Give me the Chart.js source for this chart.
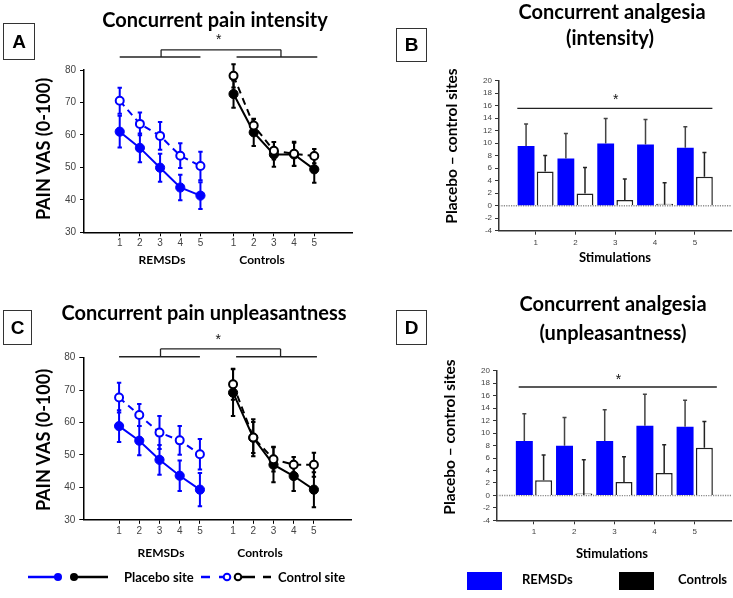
<!DOCTYPE html>
<html>
<head>
<meta charset="utf-8">
<script src="https://cdn.jsdelivr.net/npm/chart.js@4.4.1/dist/chart.umd.min.js"></script>
<style>
  html, body { margin: 0; padding: 0; background: #fff; }
  body { width: 733px; height: 598px; position: relative; overflow: hidden; }
  canvas { position: absolute; }
  .t { position: absolute; white-space: nowrap; transform: translate(-50%, -50%); font-family: Lato, "Open Sans", sans-serif; font-weight: bold; color: #000; line-height: 1; }
  .r { transform: translate(-50%, -50%) rotate(-90deg); }
  .ttl { font-size: 20px; }
  .box { position: absolute; box-sizing: border-box; border: 1.3px solid #333; font: bold 19px "Liberation Sans", Arial, sans-serif; display: flex; align-items: center; justify-content: center; color: #000; }
  .lgt { position: absolute; font-family: Lato, sans-serif; font-weight: bold; font-size: 13px; line-height: 1; transform: translateY(-50%); white-space: nowrap; }
</style>
</head>
<body>
<canvas id="cA" width="366" height="290" style="left:0;top:0"></canvas>
<canvas id="cB" width="363" height="290" style="left:370px;top:0"></canvas>
<canvas id="cC" width="366" height="290" style="left:0;top:288px"></canvas>
<canvas id="cD" width="363" height="290" style="left:370px;top:288px"></canvas>

<div class="box" style="left:3px;top:23px;width:32px;height:37px">A</div>
<div class="box" style="left:396px;top:28px;width:31px;height:34px">B</div>
<div class="box" style="left:3px;top:310px;width:29px;height:35px">C</div>
<div class="box" style="left:396px;top:310px;width:31px;height:35px">D</div>

<div class="t ttl" style="left:215px;top:19px">Concurrent pain intensity</div>
<div class="t ttl" style="left:612px;top:11px">Concurrent analgesia</div>
<div class="t ttl" style="left:610px;top:37px">(intensity)</div>
<div class="t ttl" style="left:204px;top:312px">Concurrent pain unpleasantness</div>
<div class="t ttl" style="left:613px;top:303px">Concurrent analgesia</div>
<div class="t ttl" style="left:613px;top:332px">(unpleasantness)</div>

<div class="t r" style="left:43px;top:149px;font-size:18px">PAIN VAS (0-100)</div>
<div class="t r" style="left:43px;top:440px;font-size:18px">PAIN VAS (0-100)</div>
<div class="t r" style="left:452px;top:146px;font-size:15.5px">Placebo – control sites</div>
<div class="t r" style="left:450px;top:437px;font-size:15.5px">Placebo – control sites</div>

<div class="t" style="left:162px;top:260px;font-size:12px">REMSDs</div>
<div class="t" style="left:262px;top:260px;font-size:12px">Controls</div>
<div class="t" style="left:161px;top:553px;font-size:12px">REMSDs</div>
<div class="t" style="left:260px;top:553px;font-size:12px">Controls</div>
<div class="t" style="left:615px;top:257px;font-size:13px">Stimulations</div>
<div class="t" style="left:612px;top:553px;font-size:13px">Stimulations</div>

<svg style="position:absolute;left:0;top:560px" width="300" height="34">
  <line x1="28" y1="17" x2="58" y2="17" stroke="#0000ff" stroke-width="2.5"/>
  <circle cx="58" cy="17" r="4" fill="#0000ff"/>
  <circle cx="74" cy="17" r="4" fill="#000"/>
  <line x1="74" y1="17" x2="108" y2="17" stroke="#000" stroke-width="2.5"/>
  <line x1="201" y1="17" x2="210" y2="17" stroke="#0000ff" stroke-width="2.5"/>
  <line x1="219" y1="17" x2="224" y2="17" stroke="#0000ff" stroke-width="2.5"/>
  <circle cx="227" cy="17" r="3.3" fill="#fff" stroke="#0000ff" stroke-width="2"/>
  <circle cx="238" cy="17" r="3.3" fill="#fff" stroke="#000" stroke-width="2"/>
  <line x1="242" y1="17" x2="255" y2="17" stroke="#000" stroke-width="2.5"/>
  <line x1="263" y1="17" x2="271" y2="17" stroke="#000" stroke-width="2.5"/>
</svg>
<div class="lgt" style="left:124px;top:577px">Placebo site</div>
<div class="lgt" style="left:278px;top:577px">Control site</div>
<div style="position:absolute;left:467px;top:572px;width:35px;height:18px;background:#0000ff"></div>
<div class="lgt" style="left:522px;top:579px">REMSDs</div>
<div style="position:absolute;left:619px;top:572px;width:35px;height:18px;background:#000"></div>
<div class="lgt" style="left:678px;top:579px">Controls</div>

<script>
// ---------------- data ----------------
const stimulations = [1, 2, 3, 4, 5];
const stimLabels = ['1', '2', '3', '4', '5'];
const vasTicks = [30, 40, 50, 60, 70, 80];
const diffTicks = [-4, -2, 0, 2, 4, 6, 8, 10, 12, 14, 16, 18, 20];

// Panel A: concurrent pain intensity (mean, error)
const intRemPlacebo    = [61.0, 56.0, 49.9, 43.8, 41.3];
const intRemPlaceboErr = [4.9, 4.4, 4.3, 3.9, 4.1];
const intRemControl    = [70.5, 63.4, 59.7, 53.6, 50.4];
const intRemControlErr = [4.0, 3.5, 4.3, 3.8, 4.4];
const intCtlPlacebo    = [72.6, 60.8, 54.0, 54.0, 49.4];
const intCtlPlaceboErr = [4.2, 4.2, 3.8, 3.6, 4.1];
const intCtlControl    = [78.2, 62.9, 55.1, 54.2, 53.5];
const intCtlControlErr = [3.6, 2.0, 2.7, 3.7, 2.2];

// Panel C: concurrent pain unpleasantness
const unpRemPlacebo    = [58.9, 54.4, 48.5, 43.6, 39.3];
const unpRemPlaceboErr = [4.9, 4.5, 4.6, 4.7, 5.1];
const unpRemControl    = [67.7, 62.3, 56.9, 54.5, 50.2];
const unpRemControlErr = [4.6, 3.4, 5.1, 4.4, 4.7];
const unpCtlPlacebo    = [69.2, 55.3, 47.0, 43.5, 39.3];
const unpCtlPlaceboErr = [7.2, 5.7, 5.4, 4.6, 5.4];
const unpCtlControl    = [71.8, 55.4, 48.7, 47.0, 47.0];
const unpCtlControlErr = [4.8, 4.8, 3.8, 2.4, 3.7];

// Panel B: concurrent analgesia (intensity), placebo - control sites
const anaIntRem    = [9.55, 7.57, 9.97, 9.81, 9.28];
const anaIntRemErr = [3.52, 4.0, 4.0, 4.0, 3.36];
const anaIntCtl    = [5.49, 1.97, 0.9, 0.16, 4.64];
const anaIntCtlErr = [2.56, 4.16, 3.37, 3.52, 3.89];

// Panel D: concurrent analgesia (unpleasantness)
const anaUnpRem    = [8.73, 7.98, 8.73, 11.16, 11.0];
const anaUnpRemErr = [4.37, 4.52, 5.02, 5.07, 4.26];
const anaUnpCtl    = [2.43, 0.05, 2.16, 3.61, 7.65];
const anaUnpCtlErr = [4.04, 5.66, 4.04, 4.53, 4.21];

// ---------------- layout helpers ----------------
const BLUE = '#0000ff';
const CTRL_SHIFT = 5.64;                    // Controls group offset on shared x axis
const remX = stimulations;
const ctlX = stimulations.map(s => s + CTRL_SHIFT);
const allX = remX.concat(ctlX);
const pts = (xs, ys) => xs.map((x, i) => ({ x: x, y: ys[i] }));

Chart.defaults.font.family = '"Liberation Sans", Arial, sans-serif';
Chart.defaults.color = '#444';
Chart.defaults.animation = false;
Chart.defaults.plugins.legend.display = false;
Chart.defaults.plugins.tooltip.enabled = false;

const fixW = w => s => { s.width = w; };
const fixH = h => s => { s.height = h; };
const setTicks = vals => s => { s.ticks = vals.map(v => ({ value: v })); };
const valOf = d => (d !== null && typeof d === 'object') ? d.y : d;

const errorBarPlugin = {
  id: 'errorBars',
  beforeDatasetsDraw(chart) { if (chart.config.type === 'line') drawErr(chart, true); },
  afterDatasetsDraw(chart) { if (chart.config.type === 'bar') drawErr(chart, false); }
};
function drawErr(chart, both) {
  const ctx = chart.ctx, y = chart.scales.y;
  chart.data.datasets.forEach((ds, i) => {
    if (!ds.errors) return;
    const meta = chart.getDatasetMeta(i);
    ctx.save();
    ctx.strokeStyle = ds.errorColor || ds.borderColor;
    ctx.lineWidth = ds.errorWidth || 2;
    meta.data.forEach((el, j) => {
      const v = valOf(ds.data[j]), e = ds.errors[j];
      const x = el.x;
      const yt = y.getPixelForValue(v + e);
      const yb = both ? y.getPixelForValue(v - e) : y.getPixelForValue(v);
      const cap = ds.capHalf || 2.2;
      ctx.beginPath();
      ctx.moveTo(x, yb); ctx.lineTo(x, yt);
      ctx.moveTo(x - cap, yt); ctx.lineTo(x + cap, yt);
      if (both) { ctx.moveTo(x - cap, yb); ctx.lineTo(x + cap, yb); }
      ctx.stroke();
    });
    ctx.restore();
  });
}

const sigPlugin = {
  id: 'sig',
  afterDatasetsDraw(chart, args, opts) {
    if (!opts || !opts.segments) return;
    const ctx = chart.ctx, sx = chart.scales.x, sy = chart.scales.y;
    ctx.save();
    ctx.strokeStyle = '#222';
    ctx.lineWidth = 1.3;
    opts.segments.forEach(s => {
      ctx.beginPath();
      ctx.moveTo(sx.getPixelForValue(s[0]), sy.getPixelForValue(s[1]));
      ctx.lineTo(sx.getPixelForValue(s[2]), sy.getPixelForValue(s[3]));
      ctx.stroke();
    });
    ctx.fillStyle = '#111';
    ctx.font = '14px "Liberation Sans", Arial, sans-serif';
    ctx.textAlign = 'center';
    ctx.textBaseline = 'middle';
    ctx.fillText('*', sx.getPixelForValue(opts.star[0]), sy.getPixelForValue(opts.star[1]) + 2);
    ctx.restore();
  }
};

const zeroLinePlugin = {
  id: 'zeroLine',
  beforeDatasetsDraw(chart) {
    if (chart.config.type !== 'bar') return;
    const ctx = chart.ctx, ca = chart.chartArea, y0 = chart.scales.y.getPixelForValue(0);
    ctx.save();
    ctx.strokeStyle = '#8a8a8a';
    ctx.lineWidth = 1.5;
    ctx.setLineDash([1.2, 1.2]);
    ctx.beginPath(); ctx.moveTo(ca.left, y0); ctx.lineTo(ca.right, y0); ctx.stroke();
    ctx.restore();
  }
};

function lineDs(xs, ys, err, color, open) {
  return {
    data: pts(xs, ys), errors: err,
    borderColor: color, backgroundColor: open ? '#fff' : color,
    pointBackgroundColor: open ? '#fff' : color, pointBorderColor: color,
    pointRadius: open ? 4 : 4.6, pointBorderWidth: open ? 2 : 1,
    borderWidth: 2, borderDash: open ? [7, 5] : [], tension: 0, fill: false,
    order: open ? 0 : 1
  };
}

function bracket(low, high, star) {
  const c1 = ctlX[0] + 0.15, c5 = ctlX[4] + 0.15, lv = remX[2] + 0.05, rv = ctlX[2] + 0.35;
  return {
    segments: [
      [remX[0], low, remX[4], low],
      [c1, low, c5, low],
      [lv, low, lv, high],
      [rv, low, rv, high],
      [lv, high, rv, high]
    ],
    star: [5.9, star]
  };
}

function lineChart(id, series, geo, sig) {
  return new Chart(document.getElementById(id), {
    type: 'line',
    data: { datasets: series },
    options: {
      responsive: false, devicePixelRatio: 1,
      layout: { padding: { left: 0, top: geo.top, right: geo.right, bottom: 0 } },
      scales: {
        x: {
          type: 'linear', min: -0.77, max: 12.51,
          afterBuildTicks: setTicks(allX), afterFit: fixH(geo.xh),
          border: { color: '#000', width: 1.5 },
          grid: { drawOnChartArea: false, tickLength: 4, color: '#000', lineWidth: 1 },
          ticks: { callback: (v, i) => stimLabels[i % 5], font: { size: 10 }, color: '#444', padding: 1, maxRotation: 0, autoSkip: false }
        },
        y: {
          min: 30, max: 80,
          afterBuildTicks: setTicks(vasTicks), afterFit: fixW(geo.left),
          border: { color: '#000', width: 1.5 },
          grid: { drawOnChartArea: false, tickLength: 4, color: '#000', lineWidth: 1 },
          ticks: { font: { size: 10 }, color: '#444', padding: 4, autoSkip: false }
        }
      },
      plugins: { sig: sig }
    },
    plugins: [errorBarPlugin, sigPlugin]
  });
}

function barChart(id, rem, remErr, ctl, ctlErr, geo, sig) {
  return new Chart(document.getElementById(id), {
    type: 'bar',
    data: {
      labels: stimulations,
      datasets: [
        { data: rem, errors: remErr, backgroundColor: BLUE, borderWidth: 0, errorColor: '#444', errorWidth: 1.5, capHalf: 2 },
        { data: ctl, errors: ctlErr, backgroundColor: '#fff', borderColor: '#222', borderWidth: 1.5, minBarLength: 2, errorColor: '#222', errorWidth: 1.5, capHalf: 2 }
      ]
    },
    options: {
      responsive: false, devicePixelRatio: 1,
      datasets: { bar: { categoryPercentage: 0.96, barPercentage: 0.88 } },
      layout: { padding: { left: 0, top: geo.top, right: geo.right, bottom: 0 } },
      scales: {
        x: {
          type: 'linear', min: 0.08, max: 5.92, offset: false,
          afterBuildTicks: setTicks(stimulations), afterFit: fixH(geo.xh),
          border: { color: '#333', width: 1.5 },
          grid: { offset: false, drawOnChartArea: false, tickLength: 4, color: '#333', lineWidth: 1 },
          ticks: { callback: (v, i) => stimLabels[i], font: { size: 8 }, color: '#444', padding: 3, maxRotation: 0, autoSkip: false }
        },
        y: {
          min: -4, max: 20, beginAtZero: false,
          afterBuildTicks: setTicks(diffTicks), afterFit: fixW(geo.left),
          border: { color: '#333', width: 1.5 },
          grid: { drawOnChartArea: false, tickLength: 4, color: '#333', lineWidth: 1 },
          ticks: { font: { size: 8 }, color: '#444', padding: 3, autoSkip: false }
        }
      },
      plugins: { sig: sig }
    },
    plugins: [zeroLinePlugin, errorBarPlugin, sigPlugin]
  });
}

// Panel A
lineChart('cA', [
  lineDs(remX, intRemControl, intRemControlErr, BLUE, true),
  lineDs(ctlX, intCtlControl, intCtlControlErr, '#000', true),
  lineDs(remX, intRemPlacebo, intRemPlaceboErr, BLUE, false),
  lineDs(ctlX, intCtlPlacebo, intCtlPlaceboErr, '#000', false)
], { left: 84, right: 14, top: 70, xh: 57.7 }, bracket(84.0, 86.2, 89.9));

// Panel C
lineChart('cC', [
  lineDs(remX, unpRemControl, unpRemControlErr, BLUE, true),
  lineDs(ctlX, unpCtlControl, unpCtlControlErr, '#000', true),
  lineDs(remX, unpRemPlacebo, unpRemPlaceboErr, BLUE, false),
  lineDs(ctlX, unpCtlPlacebo, unpCtlPlaceboErr, '#000', false)
], { left: 83.3, right: 14.3, top: 69.7, xh: 58.2 }, bracket(80.3, 82.7, 86.1));

// Panel B
barChart('cB', anaIntRem, anaIntRemErr, anaIntCtl, anaIntCtlErr,
  { left: 129, right: 1.5, top: 80.7, xh: 59.3 },
  { segments: [[0.54, 15.57, 5.44, 15.57]], star: [3.01, 17.15] });

// Panel D
barChart('cD', anaUnpRem, anaUnpRemErr, anaUnpCtl, anaUnpCtlErr,
  { left: 127, right: 1.3, top: 82.8, xh: 57.7 },
  { segments: [[0.62, 17.4, 5.55, 17.4]], star: [3.1, 18.9] });
</script>
</body>
</html>
